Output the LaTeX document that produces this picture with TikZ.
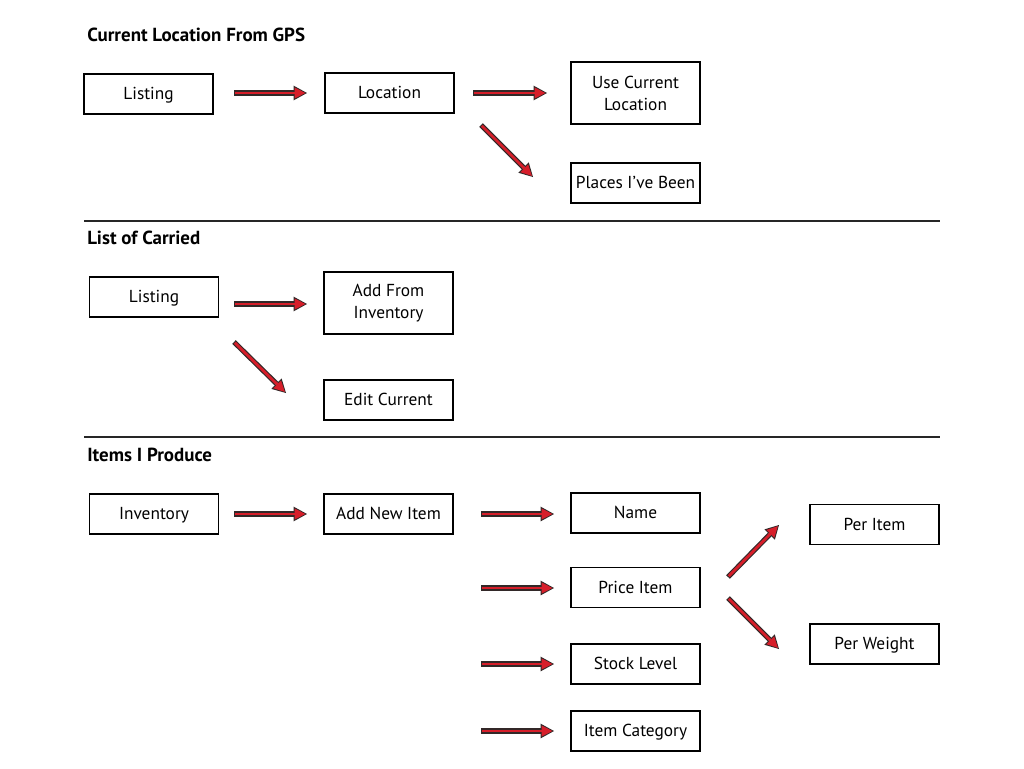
\documentclass[tikz,border=0pt]{standalone}
\usepackage{fontspec}
\setmainfont{PT Sans}
\usetikzlibrary{arrows.meta}
\definecolor{arrred}{RGB}{214,30,42}
\definecolor{arredge}{RGB}{50,40,40}
\tikzset{
  basebox/.style={draw=black, line width=1.1pt, minimum width=96.75pt, minimum height=30pt, inner sep=2pt, font=\fontsize{13}{16.5}\selectfont, align=center},
  box/.style={basebox, text height=10pt, text depth=1.2pt},
  tallbox/.style={basebox, minimum height=46.5pt},
  title/.style={anchor=west, inner sep=0pt, font=\fontsize{14.2}{16}\selectfont\bfseries},
  sep/.style={draw=black!85, line width=0.8pt},
  fatarrow/.style={draw=arredge, line width=3.8pt, -{Triangle[length=10pt,width=11pt,line width=0pt]},
    postaction={draw=arrred, line width=2.1pt, shorten >=1.2pt, shorten <=0.8pt, -{Triangle[length=8pt,width=8.2pt,line width=0pt]}}}
}
\begin{document}
\begin{tikzpicture}[x=0.75pt,y=-0.75pt]
\useasboundingbox (0,0) rectangle (1024,768);
% titles
\node[title] (t1) at (87,35) {Current Location From GPS};
\node[title] (t2) at (87,238) {List of Carried};
\node[title] (t3) at (87,455) {Items I Produce};
% separators
\coordinate (s1a) at (84,221); \coordinate (s1b) at (940,221);
\coordinate (s2a) at (84,437); \coordinate (s2b) at (940,437);
\draw[sep] (s1a) -- (s1b);
\draw[sep] (s2a) -- (s2b);
% section 1
\node[box] (listing1) at (148.5,94) {Listing};
\node[box] (location) at (389.5,93) {Location};
\node[tallbox] (usecur) at (635.5,93) {Use Current\\Location};
\node[box] (places) at (635.5,183) {Places I’ve Been};
% section 2
\node[box] (listing2) at (154,297) {Listing};
\node[tallbox] (addfrom) at (388.5,303) {Add From\\Inventory};
\node[box] (editcur) at (388.5,400) {Edit Current};
% section 3
\node[box] (inventory) at (154,514) {Inventory};
\node[box] (addnew) at (388.5,514) {Add New Item};
\node[box] (name) at (635.5,513) {Name};
\node[box] (price) at (635.5,587.5) {Price Item};
\node[box] (stock) at (635.5,664) {Stock Level};
\node[box] (category) at (635.5,731) {Item Category};
\node[box] (peritem) at (874.5,524.5) {Per Item};
\node[box] (perweight) at (874.5,644) {Per Weight};
% arrow end points
\coordinate (a1s) at (234,93);  \coordinate (a1e) at (307,93);
\coordinate (a2s) at (473,93);  \coordinate (a2e) at (547,93);
\coordinate (a3s) at (481,125); \coordinate (a3e) at (533,177);
\coordinate (b1s) at (234,304); \coordinate (b1e) at (307,304);
\coordinate (b2s) at (234,342); \coordinate (b2e) at (286,393);
\coordinate (c1s) at (234,514); \coordinate (c1e) at (307,514);
\coordinate (c2s) at (481,514); \coordinate (c2e) at (554,514);
\coordinate (c3s) at (481,588); \coordinate (c3e) at (554,588);
\coordinate (c4s) at (481,664); \coordinate (c4e) at (554,664);
\coordinate (c5s) at (481,731); \coordinate (c5e) at (554,731);
\coordinate (c6s) at (728,577); \coordinate (c6e) at (779,525);
\coordinate (c7s) at (728,598); \coordinate (c7e) at (779,649);
\foreach \s/\e in {a1s/a1e,a2s/a2e,a3s/a3e,b1s/b1e,b2s/b2e,c1s/c1e,c2s/c2e,c3s/c3e,c4s/c4e,c5s/c5e,c6s/c6e,c7s/c7e}
  \draw[fatarrow] (\s) -- (\e);
\end{tikzpicture}
\end{document}
